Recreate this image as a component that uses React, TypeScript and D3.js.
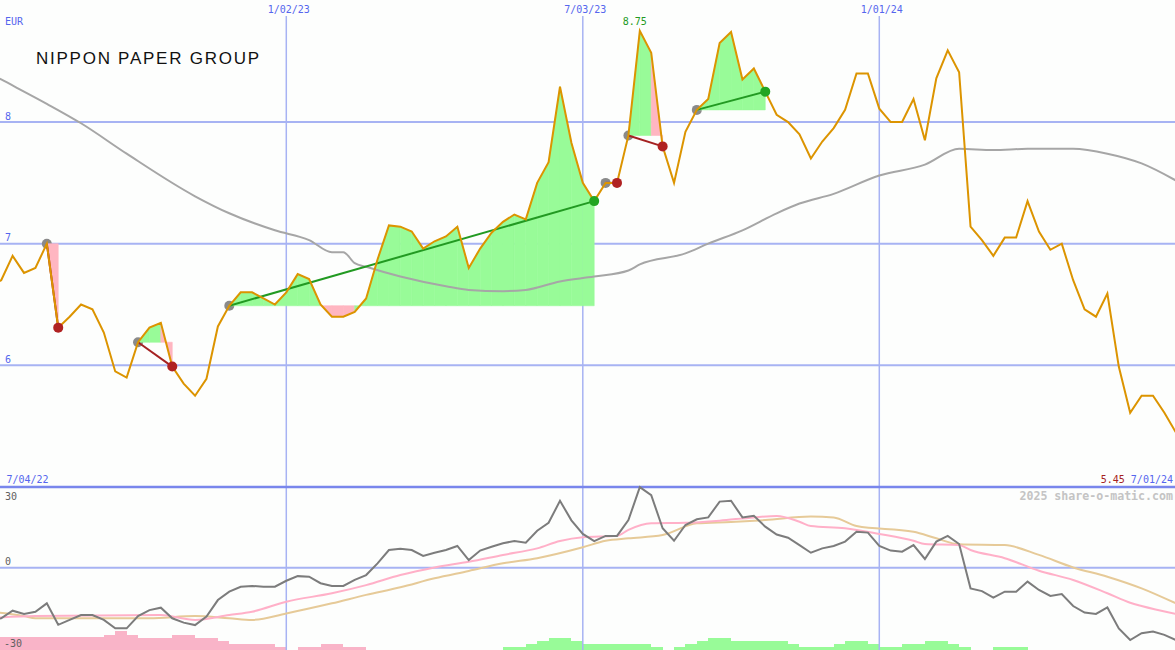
import React from 'react';
import * as d3 from 'd3';

// ---------- DATA ----------
const START_DATE = Date.UTC(2022, 6, 4);
const END_DATE = Date.UTC(2024, 6, 1);
const WEEK_MS = 7 * 86400000;

const priceValues = [
  6.65, 6.70, 6.90, 6.76, 6.80, 7.00, 6.31, 6.40, 6.50, 6.46,
  6.27, 5.95, 5.90, 6.19, 6.31, 6.35, 5.99, 5.85, 5.75, 5.89,
  6.32, 6.49, 6.60, 6.60, 6.55, 6.50, 6.60, 6.75, 6.71, 6.50,
  6.40, 6.40, 6.44, 6.55, 6.87, 7.15, 7.14, 7.10, 6.96, 7.02,
  7.06, 7.14, 6.80, 6.96, 7.09, 7.18, 7.24, 7.20, 7.50, 7.67,
  8.29, 7.83, 7.50, 7.35, 7.50, 7.50, 7.89, 8.75, 8.57, 7.80,
  7.50, 7.92, 8.10, 8.19, 8.65, 8.74, 8.35, 8.44, 8.25, 8.06,
  8.00, 7.90, 7.70, 7.84, 7.95, 8.10, 8.40, 8.40, 8.11, 8.00,
  8.00, 8.19, 7.85, 8.36, 8.59, 8.41, 7.14, 7.03, 6.90, 7.05,
  7.05, 7.35, 7.10, 6.95, 7.00, 6.70, 6.46, 6.40, 6.59, 5.99,
  5.61, 5.75, 5.75, 5.61, 5.45,
];

const maWeeks = [0, 1, 5, 8, 12, 18, 21, 25, 28, 30, 31, 32, 33, 36, 40, 42, 45, 47, 50, 53, 56, 57, 61, 63, 66, 69, 71, 74, 78, 82, 85, 88, 91, 95, 98, 101, 104];
const maValues = [8.40, 8.35, 8.15, 7.99, 7.74, 7.39, 7.25, 7.11, 7.03, 6.93, 6.93, 6.84, 6.81, 6.73, 6.65, 6.62, 6.61, 6.62, 6.69, 6.73, 6.78, 6.83, 6.92, 7.00, 7.11, 7.25, 7.33, 7.41, 7.56, 7.65, 7.78, 7.77, 7.78, 7.78, 7.74, 7.66, 7.52];

const oscValues = [
  -19.0, -18.6, -15.8, -17.0, -16.2, -13.1, -21.0, -19.2, -17.4, -17.4,
  -19.2, -22.3, -22.3, -17.8, -15.6, -14.7, -18.6, -20.2, -21.1, -18.0,
  -11.9, -8.8, -7.0, -6.7, -7.0, -7.0, -4.8, -3.1, -3.3, -5.7,
  -6.7, -6.7, -4.5, -2.7, 1.6, 6.5, 7.0, 6.5, 4.3, 5.5,
  6.5, 8.0, 2.8, 6.3, 7.7, 9.0, 9.8, 9.2, 13.6, 16.5,
  24.6, 17.4, 12.4, 9.8, 11.7, 11.7, 17.5, 29.6, 26.7, 14.5,
  9.9, 15.7, 17.8, 18.5, 24.3, 24.6, 18.5, 19.1, 15.1, 12.2,
  11.0, 8.3, 5.5, 7.1, 8.0, 9.6, 13.2, 12.9, 8.0, 6.3,
  5.9, 8.3, 3.2, 9.6, 11.7, 8.7, -7.6, -8.6, -11.0, -8.8,
  -8.8, -5.1, -8.2, -10.4, -9.7, -14.1, -16.5, -17.0, -14.6, -22.3,
  -26.6, -24.1, -23.5, -24.7, -26.6,
];

const pinkWeeks = [0, 4, 15, 18, 21, 23, 26, 30, 33, 36, 39, 42, 45, 48, 50, 52, 55, 56, 58, 61, 64, 67, 69, 71, 72, 75, 78, 81, 82, 85, 86, 89, 92, 95, 98, 100, 101, 104];
const pinkValues = [-18.5, -17.8, -17.4, -19.2, -17.4, -16.2, -12.5, -9.4, -6.4, -2.7, 0.1, 2.2, 4.7, 7.1, 9.8, 11.2, 11.7, 13.9, 16.3, 16.5, 17.3, 18.5, 19.0, 16.9, 15.3, 14.5, 12.4, 9.9, 8.7, 8.3, 6.5, 3.5, -1.1, -4.5, -9.4, -12.9, -14.1, -17.0];

const tanWeeks = [0, 3, 4, 14, 18, 21, 23, 26, 30, 33, 36, 39, 42, 45, 48, 52, 54, 56, 59, 62, 65, 68, 72, 74, 76, 81, 83, 85, 89, 92, 95, 98, 101, 104];
const tanValues = [-16.2, -17.8, -18.6, -18.6, -17.8, -18.6, -19.2, -16.8, -13.1, -10.0, -7.2, -3.9, -1.2, 1.6, 3.5, 7.5, 9.9, 10.8, 12.0, 16.3, 16.8, 17.5, 18.8, 18.5, 15.3, 13.2, 10.8, 8.6, 8.3, 4.7, 0.1, -3.3, -7.6, -13.1];

const histValues = [
  -4.8, -4.8, -4.8, -4.8, -4.8, -4.8, -4.8, -4.8, -4.8, -4.8,
  -5.4, -6.8, -5.4, -4.2, -4.2, -4.2, -5.4, -5.4, -4.2, -4.2,
  -3.2, -2.1, -2.1, -2.1, -2.1, -1.2, 0, -1.2, -1.2, -2.1,
  -2.1, -1.2, -1.2, 0, 0, 0, 0, 0, 0, 0,
  0, 0, 0, 0, 0, 1.2, 1.2, 2.1, 3.2, 4.2,
  4.2, 3.2, 2.1, 2.1, 2.1, 2.1, 2.1, 2.1, 1.2, 0,
  1.2, 2.1, 3.2, 4.2, 4.2, 3.2, 3.2, 3.2, 3.2, 3.2,
  2.1, 1.2, 1.2, 1.2, 2.1, 3.2, 3.2, 2.1, 1.2, 1.2,
  2.1, 2.1, 3.2, 3.2, 2.1, 1.2, 0, 0, 1.2, 1.2,
  1.2, 0, 0, 0, 0, 0, 0, 0, 0, 0,
  0, 0, 0, 0, 0,
];

const tradeEntries = [5, 13, 21, 54, 56, 62];
const tradeExits = [6, 16, 53, 55, 59, 68];
const tradeWins = [false, false, true, false, false, true];

const priceTicks = [6, 7, 8];
const oscTicks = [30, 0, -30];
const dateTicks = [Date.UTC(2023, 0, 2), Date.UTC(2023, 6, 3), Date.UTC(2024, 0, 1)];
const dateTickLabels = ['1/02/23', '7/03/23', '1/01/24'];
const startLabel = '7/04/22';
const endLabel = '7/01/24';
const title = 'NIPPON PAPER GROUP';
const currency = 'EUR';
const credit = '2025 share-o-matic.com';

// ---------- LAYOUT ----------
const W = 1175;
const H = 650;
const PANEL_SPLIT = 487;
const MONO = "'DejaVu Sans Mono', monospace";
const BLUE_TXT = '#5566ee';
const GRID = '#a7b3f3';
const ORANGE = '#dc9400';
const FILL_GREEN = '#98fb98';
const FILL_PINK = '#ffb6c1';

const weekDate = (k: number) => new Date(START_DATE + k * WEEK_MS);

export default function App() {
  const x = d3.scaleUtc().domain([new Date(START_DATE), new Date(END_DATE)]).range([-10.2, 1175.8]);
  const xk = (k: number) => x(weekDate(k));
  const y = d3.scaleLinear().domain([5, 9]).range([487, 0.4]);
  const yo = d3.scaleLinear().domain([-30, 30]).range([649.3, 486.1]);
  const yh = d3.scaleLinear().domain([0, 10]).range([650, 622]);

  const priceLine = d3.line<number>().x((_, i) => xk(i)).y((v) => y(v))(priceValues) || '';
  const maLine = d3.line<number>().x((_, i) => xk(maWeeks[i])).y((v) => y(v)).curve(d3.curveMonotoneX)(maValues) || '';
  const oscLine = d3.line<number>().x((_, i) => xk(i)).y((v) => yo(v))(oscValues) || '';
  const pinkLine = d3.line<number>().x((_, i) => xk(pinkWeeks[i])).y((v) => yo(v)).curve(d3.curveMonotoneX)(pinkValues) || '';
  const tanLine = d3.line<number>().x((_, i) => xk(tanWeeks[i])).y((v) => yo(v)).curve(d3.curveMonotoneX)(tanValues) || '';

  const poly = d3.line<[number, number]>();

  const fills: { d: string; c: string }[] = [];
  tradeEntries.forEach((e, t) => {
    const ex = tradeExits[t];
    const pe = priceValues[e];
    const ye = y(pe);
    for (let k = e; k < ex; k++) {
      const pts: [number, number][] = [
        [xk(k), ye],
        [xk(k), y(priceValues[k])],
        [xk(k + 1), y(priceValues[k + 1])],
        [xk(k + 1), ye],
      ];
      fills.push({ d: (poly(pts) || '') + 'Z', c: priceValues[k + 1] >= pe ? FILL_GREEN : FILL_PINK });
    }
  });

  let maxIdx = 0;
  priceValues.forEach((v, i) => { if (v > priceValues[maxIdx]) maxIdx = i; });
  const lastVal = priceValues[priceValues.length - 1];

  return (
    <div style={{ position: 'absolute', left: 0, top: 0 }}>
      <svg width={W} height={H} style={{ display: 'block', background: '#fdfefd' }}>
        {/* histogram */}
        {histValues.map((v, k) =>
          v === 0 ? null : (
            <rect
              key={'h' + k}
              x={xk(k)}
              y={yh(Math.abs(v))}
              width={xk(k + 1) - xk(k)}
              height={650 - yh(Math.abs(v))}
              fill={v < 0 ? '#f9b4c8' : FILL_GREEN}
              shapeRendering="crispEdges"
            />
          )
        )}

        {/* grid */}
        {priceTicks.map((t) => (
          <line key={'pg' + t} x1={0} x2={W} y1={y(t)} y2={y(t)} stroke={GRID} strokeWidth={2} />
        ))}
        <line x1={0} x2={W} y1={yo(0)} y2={yo(0)} stroke={GRID} strokeWidth={2} />
        {dateTicks.map((d) => (
          <line key={'vg' + d} x1={x(new Date(d))} x2={x(new Date(d))} y1={16} y2={H} stroke={GRID} strokeWidth={1.5} />
        ))}
        <line x1={0} x2={W} y1={PANEL_SPLIT} y2={PANEL_SPLIT} stroke="#7986ec" strokeWidth={2.5} />

        {/* entry dots */}
        {tradeEntries.map((e, t) => (
          <circle key={'ed' + t} cx={xk(e)} cy={y(priceValues[e])} r={5} fill="#8a8a8a" />
        ))}

        {/* trade fills */}
        {fills.map((f, i) => (
          <path key={'f' + i} d={f.d} fill={f.c} stroke={f.c} strokeWidth={0.6} />
        ))}

        {/* moving average */}
        <path d={maLine} fill="none" stroke="#a6a6a6" strokeWidth={2} />

        {/* trade lines */}
        {tradeEntries.map((e, t) => (
          <line
            key={'tl' + t}
            x1={xk(e)}
            y1={y(priceValues[e])}
            x2={xk(tradeExits[t])}
            y2={y(priceValues[tradeExits[t]])}
            stroke={tradeWins[t] ? '#229a22' : '#a52222'}
            strokeWidth={2}
          />
        ))}

        {/* price */}
        <path d={priceLine} fill="none" stroke={ORANGE} strokeWidth={2} strokeLinejoin="miter" />

        {/* exit dots */}
        {tradeExits.map((ex, t) => (
          <circle key={'xd' + t} cx={xk(ex)} cy={y(priceValues[ex])} r={5} fill={tradeWins[t] ? '#22a522' : '#b02222'} />
        ))}

        {/* oscillator */}
        <path d={tanLine} fill="none" stroke="#e6ca98" strokeWidth={2} />
        <path d={pinkLine} fill="none" stroke="#ffb0c8" strokeWidth={2} />
        <path d={oscLine} fill="none" stroke="#7c7c7c" strokeWidth={2} />

        {/* texts */}
        <text x={5} y={25} fontFamily={MONO} fontSize={10} fill={BLUE_TXT}>{currency}</text>
        {priceTicks.map((t) => (
          <text key={'pl' + t} x={5} y={y(t) - 2.5} fontFamily={MONO} fontSize={10} fill={BLUE_TXT}>{t}</text>
        ))}
        {dateTicks.map((d, i) => (
          <text key={'dl' + d} x={x(new Date(d)) + 2.5} y={13} textAnchor="middle" fontFamily={MONO} fontSize={10} fill={BLUE_TXT}>
            {dateTickLabels[i]}
          </text>
        ))}
        <text x={6.5} y={483} fontFamily={MONO} fontSize={10} fill={BLUE_TXT}>{startLabel}</text>
        <text x={1173} y={483} textAnchor="end" fontFamily={MONO} fontSize={10}>
          <tspan fill="#a52222">{lastVal.toFixed(2)}</tspan>
          <tspan fill={BLUE_TXT}>{' ' + endLabel}</tspan>
        </text>
        <text x={xk(maxIdx) - 5} y={25} textAnchor="middle" fontFamily={MONO} fontSize={10} fill="#229a22">
          {priceValues[maxIdx].toFixed(2)}
        </text>
        <text x={36} y={64} fontFamily="'Liberation Sans', Arial, sans-serif" fontSize={17} fill="#111" textLength={223} lengthAdjust="spacing">
          {title}
        </text>
        <text x={1173} y={500} textAnchor="end" fontFamily={MONO} fontSize={11.6} fontWeight="bold" fill="#c4c4c4">{credit}</text>
        <text x={5} y={500} fontFamily={MONO} fontSize={10} fill="#606060">{oscTicks[0]}</text>
        <text x={5} y={565} fontFamily={MONO} fontSize={10} fill="#606060">{oscTicks[1]}</text>
        <text x={4} y={647} fontFamily={MONO} fontSize={10} fill="#606060">{oscTicks[2]}</text>
      </svg>
    </div>
  );
}
